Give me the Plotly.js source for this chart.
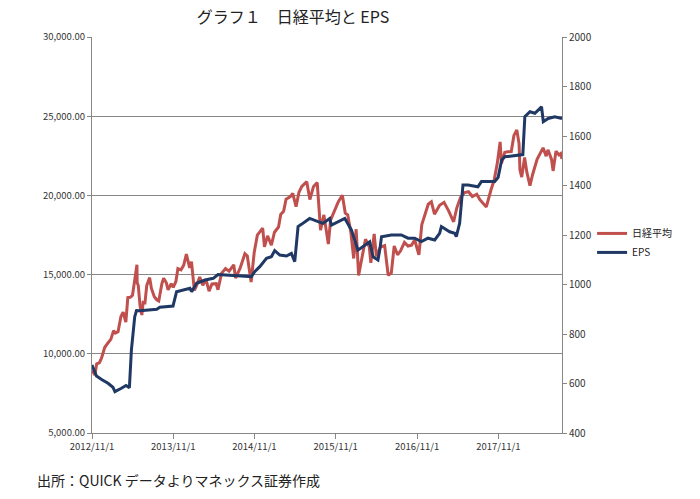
<!DOCTYPE html>
<html>
<head>
<meta charset="utf-8">
<script src="https://cdn.plot.ly/plotly-3.0.1.min.js"></script>
<style>html,body{margin:0;padding:0;background:#fff;}#chart{width:700px;height:499px;}</style>
</head>
<body>
<div id="chart"></div>
<script>
const nikkeiDates = ["2012-11-01","2012-11-14","2012-11-22","2012-12-04","2012-12-14","2012-12-28","2013-01-10","2013-01-25","2013-02-06","2013-02-14","2013-02-26","2013-03-11","2013-03-21","2013-04-02","2013-04-11","2013-04-22","2013-05-02","2013-05-10","2013-05-22","2013-05-23","2013-05-28","2013-06-05","2013-06-13","2013-06-19","2013-06-27","2013-07-05","2013-07-18","2013-07-26","2013-08-08","2013-08-20","2013-08-28","2013-09-11","2013-09-19","2013-10-01","2013-10-09","2013-10-23","2013-11-01","2013-11-13","2013-11-22","2013-12-06","2013-12-18","2013-12-30","2014-01-14","2014-01-22","2014-02-04","2014-02-14","2014-02-28","2014-03-14","2014-03-28","2014-04-11","2014-04-24","2014-05-13","2014-05-21","2014-06-06","2014-06-24","2014-07-10","2014-07-31","2014-08-08","2014-08-29","2014-09-19","2014-09-30","2014-10-17","2014-10-31","2014-11-14","2014-12-08","2014-12-16","2014-12-30","2015-01-16","2015-01-30","2015-02-17","2015-02-27","2015-03-12","2015-03-23","2015-04-10","2015-04-22","2015-05-07","2015-05-20","2015-06-02","2015-06-24","2015-07-08","2015-07-24","2015-08-10","2015-08-25","2015-09-09","2015-09-29","2015-10-09","2015-10-30","2015-11-13","2015-12-01","2015-12-14","2015-12-25","2016-01-08","2016-01-21","2016-02-01","2016-02-12","2016-02-24","2016-03-14","2016-03-31","2016-04-07","2016-04-22","2016-05-02","2016-05-20","2016-06-08","2016-06-24","2016-07-08","2016-07-21","2016-08-05","2016-08-18","2016-09-05","2016-09-21","2016-10-07","2016-10-21","2016-11-09","2016-11-22","2016-12-09","2016-12-21","2017-01-04","2017-01-18","2017-02-10","2017-03-02","2017-03-22","2017-04-14","2017-04-28","2017-05-15","2017-06-02","2017-06-20","2017-07-07","2017-07-27","2017-08-10","2017-09-08","2017-09-29","2017-10-13","2017-10-27","2017-11-09","2017-11-15","2017-11-30","2017-12-13","2017-12-29","2018-01-10","2018-01-23","2018-02-02","2018-02-06","2018-02-14","2018-02-27","2018-03-09","2018-03-23","2018-04-04","2018-04-24","2018-05-21","2018-06-04","2018-06-12","2018-06-28","2018-07-05","2018-07-18","2018-07-31","2018-08-08","2018-08-14"];
const nikkeiValues = [8946,8665,9366,9432,9737,10395,10652,10926,11463,11307,11398,12349,12635,12003,13549,13568,13694,14607,15627,14484,14311,13014,12445,13245,13213,14309,14808,14129,13605,13396,13338,14425,14766,14484,14037,14426,14201,14567,15381,15299,15587,16291,15423,15820,14009,14313,14841,14327,14696,13960,14404,14425,14042,15077,15376,15216,15620,14778,15424,16321,16173,14532,16413,17490,17935,16755,17450,16864,17674,18004,18797,18991,19754,19907,20133,19291,20196,20569,20868,19737,20544,20808,17806,18770,16930,18438,19083,19597,20012,18883,18770,17698,16017,17865,14952,15915,17233,16758,15749,17572,16147,16736,16830,14952,15106,16810,16254,16486,17037,16807,16860,17184,16251,18162,18996,19444,19594,18813,19378,19564,19041,18335,19197,19869,20177,20230,19929,20079,19729,19274,20356,20954,22008,23382,22028,22724,22758,22765,23788,24124,23274,21610,21154,22389,21469,20617,21319,22278,23002,22475,22878,22270,21546,22794,22554,22644,22300];

const epsDates = ["2012-11-01","2012-11-21","2012-12-16","2013-01-12","2013-02-03","2013-02-12","2013-03-11","2013-04-03","2013-04-18","2013-04-27","2013-05-12","2013-05-20","2013-06-05","2013-07-20","2013-08-19","2013-09-02","2013-10-31","2013-11-16","2014-01-15","2014-01-23","2014-02-14","2014-03-24","2014-04-30","2014-05-21","2014-06-29","2014-08-18","2014-10-18","2014-11-02","2014-11-25","2014-12-25","2015-01-16","2015-01-31","2015-02-23","2015-03-25","2015-04-16","2015-05-01","2015-05-16","2015-05-31","2015-07-07","2015-08-14","2015-09-05","2015-10-05","2015-10-13","2015-12-12","2016-01-11","2016-02-09","2016-03-10","2016-04-02","2016-04-17","2016-05-09","2016-05-17","2016-05-25","2016-07-08","2016-08-22","2016-09-21","2016-10-21","2016-11-20","2016-12-20","2017-01-19","2017-02-10","2017-02-18","2017-03-27","2017-04-19","2017-04-26","2017-05-11","2017-05-26","2017-06-18","2017-08-01","2017-08-17","2017-10-16","2017-10-31","2017-11-16","2017-11-30","2017-12-31","2018-02-06","2018-02-19","2018-02-28","2018-03-23","2018-04-14","2018-05-14","2018-05-22","2018-06-13","2018-07-13","2018-08-14"];
const epsValues = [675,630,615,601,585,567,580,592,583,735,870,895,894,898,900,908,913,971,985,971,1005,1018,1025,1040,1038,1036,1032,1052,1072,1106,1112,1137,1119,1115,1126,1092,1234,1243,1267,1254,1247,1267,1240,1267,1220,1139,1160,1173,1112,1099,1139,1193,1200,1200,1187,1187,1173,1187,1180,1207,1234,1213,1207,1193,1247,1402,1402,1395,1416,1416,1433,1503,1516,1519,1523,1525,1678,1698,1692,1718,1658,1671,1678,1671];

const xTickVals = ["2012-11-01","2013-11-01","2014-11-01","2015-11-01","2016-11-01","2017-11-01"];
const xTickText = ["2012/11/1","2013/11/1","2014/11/1","2015/11/1","2016/11/1","2017/11/1"];

const FONT = "Noto Sans CJK JP, Noto Sans, sans-serif";
const axisGray = "#878787";

const traces = [
  {x: nikkeiDates, y: nikkeiValues, name: "日経平均", type: "scatter", mode: "lines",
   line: {color: "#C0504D", width: 3}, yaxis: "y"},
  {x: epsDates, y: epsValues, name: "EPS", type: "scatter", mode: "lines",
   line: {color: "#1F3864", width: 3, shape: "linear"}, yaxis: "y2"}
];

const layout = {
  width: 700, height: 499,
  margin: {l: 92, r: 138, t: 37, b: 66},
  paper_bgcolor: "#fff", plot_bgcolor: "#fff",
  font: {family: FONT, size: 10, color: "#333"},
  title: {text: "グラフ１　日経平均と EPS", font: {family: FONT, size: 16, color: "#222"},
          x: 293/700, xanchor: "center", y: 1 - 17/499, yanchor: "middle"},
  showlegend: true,
  legend: {x: 1.064, xanchor: "left", y: 0.48, yanchor: "middle",
           font: {family: FONT, size: 10, color: "#222"}, tracegroupgap: 0,
           itemwidth: 30, bgcolor: "rgba(0,0,0,0)"},
  xaxis: {type: "date", range: ["2012-11-01", "2018-08-14"], tickmode: "array",
          tickvals: xTickVals, ticktext: xTickText, ticks: "outside", ticklen: 5,
          tickcolor: axisGray, showline: true, linecolor: axisGray, linewidth: 1,
          showgrid: false, zeroline: false, tickfont: {size: 9.5, color: "#333"}},
  yaxis: {range: [5000, 30000], dtick: 5000, tick0: 5000, tickformat: ",.2f",
          ticks: "outside", ticklen: 4, tickcolor: axisGray, showline: true,
          linecolor: axisGray, linewidth: 1, showgrid: true, gridcolor: axisGray,
          gridwidth: 1, zeroline: false, tickfont: {size: 9.5, color: "#333"}},
  yaxis2: {range: [400, 2000], dtick: 200, tick0: 400, overlaying: "y", side: "right",
           ticks: "outside", ticklen: 4, tickcolor: axisGray, showline: true,
           linecolor: axisGray, linewidth: 1, showgrid: false, zeroline: false,
           tickfont: {size: 10, color: "#333"}},
  annotations: [
    {text: "出所：QUICK データよりマネックス証券作成", xref: "paper", yref: "paper",
     x: -57/470, y: -47/396, xanchor: "left", yanchor: "middle", showarrow: false,
     font: {family: FONT, size: 14, color: "#222"}}
  ]
};

Plotly.newPlot("chart", traces, layout, {displayModeBar: false, staticPlot: true});
</script>
</body>
</html>
